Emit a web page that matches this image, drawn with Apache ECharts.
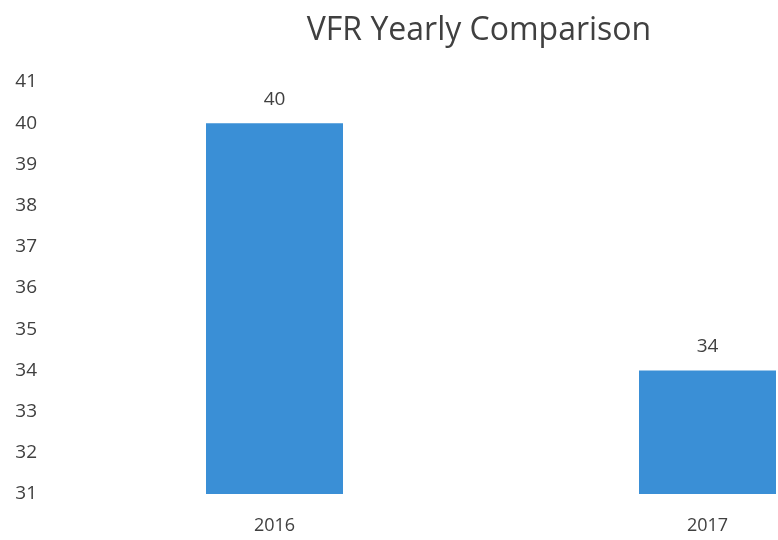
<!DOCTYPE html>
<html>
<head>
<meta charset="utf-8">
<script src="https://cdn.jsdelivr.net/npm/echarts@6/dist/echarts.min.js"></script>
<style>
    html, body { margin: 0; padding: 0; background: #ffffff; }
    #main { width: 778px; height: 540px; }
</style>
</head>
<body>
<div id="main"></div>
<script>
    var years = ['2016', '2017'];
    var vfrCounts = [40, 34];
    var yMin = 31;
    var yMax = 41;

    var chart = echarts.init(document.getElementById('main'));
    var textColor = '#404040';
    var option = {
        backgroundColor: '#ffffff',
        title: {
            text: 'VFR Yearly Comparison',
            left: 474,
            top: 10,
            textAlign: 'center',
            textStyle: {
                fontFamily: 'Open Sans',
                fontSize: 32,
                fontWeight: 'normal',
                color: textColor
            }
        },
        grid: {
            left: 58,
            top: 82,
            width: 866,
            height: 412,
            outerBoundsMode: 'none'
        },
        xAxis: {
            type: 'category',
            data: years,
            axisLine: { show: false },
            axisTick: { show: false },
            axisLabel: {
                margin: 23,
                fontFamily: 'Open Sans',
                fontSize: 18,
                color: textColor
            }
        },
        yAxis: {
            type: 'value',
            min: yMin,
            max: yMax,
            interval: 1,
            splitLine: { show: false },
            axisLine: { show: false },
            axisTick: { show: false },
            axisLabel: {
                margin: 21,
                fontFamily: 'Open Sans',
                fontSize: 19,
                color: textColor
            }
        },
        series: [{
            type: 'bar',
            data: vfrCounts,
            barWidth: 137,
            itemStyle: { color: '#3a8fd6' },
            label: {
                show: true,
                position: 'top',
                distance: 14,
                fontFamily: 'Open Sans',
                fontSize: 19,
                color: textColor
            }
        }]
    };
    chart.setOption(option);
</script>
</body>
</html>
